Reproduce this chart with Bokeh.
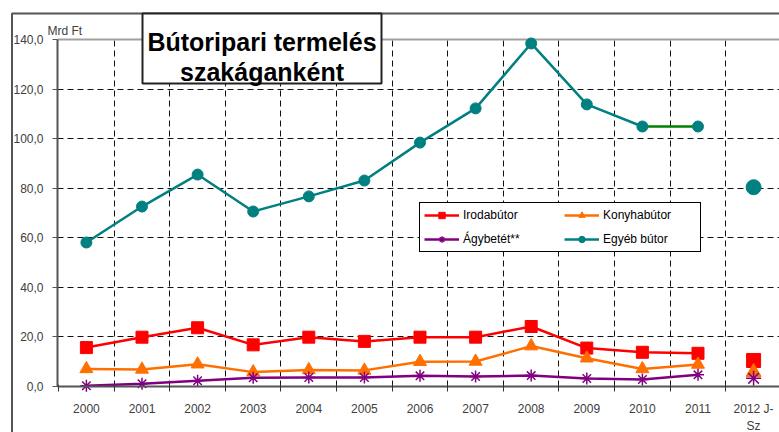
from bokeh.plotting import figure
from bokeh.models import (FixedTicker, Range1d, Label, BoxAnnotation, Grid,
                          Legend, LegendItem)
from bokeh.embed import file_html
from bokeh.resources import INLINE

# ---- data -----------------------------------------------------------
years = ["2000", "2001", "2002", "2003", "2004", "2005", "2006", "2007",
         "2008", "2009", "2010", "2011", "2012 J-\nSz"]
iroda = [15.7, 19.9, 23.7, 16.8, 19.9, 18.2, 19.9, 19.9, 24.2, 15.5, 13.8, 13.4, 10.5]
konyha = [7.1, 6.9, 9.0, 5.8, 6.7, 6.5, 10.0, 10.1, 16.3, 11.4, 7.1, 8.9, 5.8]
agy = [0.3, 1.1, 2.3, 3.5, 3.6, 3.6, 4.3, 4.0, 4.4, 3.2, 2.8, 4.7, 3.3]
egyeb = [58.1, 72.6, 85.5, 70.6, 76.7, 83.1, 98.4, 112.2, 138.4, 113.8, 104.9, 104.9, 80.4]
yticks = [0, 20, 40, 60, 80, 100, 120, 140]
ytick_labels = ["0,0", "20,0", "40,0", "60,0", "80,0", "100,0", "120,0", "140,0"]
series_names = ["Irodabútor", "Konyhabútor", "Ágybetét**", "Egyéb bútor"]
title_lines = ["Bútoripari termelés", "szakáganként"]
unit_label = "Mrd Ft"

FONT = "Liberation Sans"
xs = list(range(len(years)))
full = xs[:12]      # annual values, connected
part = xs[12:]      # 2012 partial year, separate marker

W, H = 779, 432
X0, X1 = -1.545, 12.466          # visible x window (category units)
Y0, Y1 = -18.56, 155.73          # visible y window (value units)
XL = -0.52                       # left edge of the category axis
YB, YT = 0, 140                  # value axis bounds

p = figure(width=W, height=H, x_range=Range1d(X0, X1), y_range=Range1d(Y0, Y1),
           output_backend="svg", toolbar_location=None,
           min_border=0, min_border_left=0, min_border_right=0,
           min_border_top=0, min_border_bottom=0)
p.title.visible = False
p.outline_line_color = None
p.background_fill_color = "white"
p.border_fill_color = "white"

# value axis (drawn inside the full-canvas frame)
ax = p.yaxis[0]
ax.fixed_location = XL
ax.bounds = (YB, YT)
ax.ticker = FixedTicker(ticks=yticks)
ax.major_label_overrides = {t: l for t, l in zip(yticks, ytick_labels)}
ax.axis_line_color = "#555555"
ax.axis_line_width = 2
ax.major_tick_out = 5
ax.major_tick_in = 0
ax.major_tick_line_color = "#555555"
ax.minor_tick_line_color = None
ax.major_label_text_font = FONT
ax.major_label_text_font_size = "12px"
ax.major_label_text_color = "#404040"
ax.major_label_standoff = 9

# category axis
bx = p.xaxis[0]
bx.fixed_location = 0
bx.bounds = (XL, X1)
bx.ticker = FixedTicker(ticks=xs, minor_ticks=[i - 0.5 for i in range(14)])
bx.major_label_overrides = {i: y for i, y in zip(xs, years)}
bx.axis_line_color = "#555555"
bx.axis_line_width = 2
bx.major_tick_out = 0
bx.major_tick_in = 0
bx.minor_tick_out = 5
bx.minor_tick_in = 2
bx.minor_tick_line_color = "#333333"
bx.minor_tick_line_width = 1
bx.major_label_text_font = FONT
bx.major_label_text_font_size = "12px"
bx.major_label_text_color = "#404040"
bx.major_label_text_line_height = 1.15
bx.major_label_standoff = 11

# grids
p.xgrid.ticker = FixedTicker(ticks=[i + 0.5 for i in range(12)])
p.xgrid.cross_bounds = (YB, YT)
p.ygrid.ticker = FixedTicker(ticks=yticks[1:-1])
p.ygrid.cross_bounds = (XL, X1)
for g in (p.xgrid[0], p.ygrid[0]):
    g.grid_line_color = "#111111"
    g.grid_line_dash = "6 4"
    g.grid_line_width = 1
p.add_layout(Grid(dimension=1, ticker=FixedTicker(ticks=[YT]), cross_bounds=(XL, X1),
                  grid_line_color="#a0a0a0", grid_line_width=2))

# series
COL = {"iroda": "#ff0000", "konyha": "#ff6f00", "agy": "#800080", "egyeb": "#008080"}
LW = 2.5

r1l = p.line(full, iroda[:12], line_color=COL["iroda"], line_width=LW)
r1s = p.scatter(full, iroda[:12], marker="square", size=12, color=COL["iroda"])
p.scatter(part, iroda[12:], marker="square", size=14, color=COL["iroda"])

r2l = p.line(full, konyha[:12], line_color=COL["konyha"], line_width=LW)
r2s = p.scatter(full, konyha[:12], marker="triangle", size=13, color=COL["konyha"])
p.scatter(part, konyha[12:], marker="triangle", size=15, color=COL["konyha"])

r3l = p.line(full, agy[:12], line_color=COL["agy"], line_width=LW)
r3s = p.scatter(full, agy[:12], marker="asterisk", size=12, line_color=COL["agy"], line_width=1.5)
p.scatter(part, agy[12:], marker="asterisk", size=15, line_color=COL["agy"], line_width=1.5)

r4l = p.line(full[:11], egyeb[:11], line_color=COL["egyeb"], line_width=LW)
p.line(full[10:12], egyeb[10:12], line_color="#008000", line_width=LW)
r4s = p.scatter(full, egyeb[:12], marker="circle", size=11, color=COL["egyeb"])
p.scatter(part, egyeb[12:], marker="circle", size=15, color=COL["egyeb"])

legend = Legend(items=[
    LegendItem(label=series_names[0], renderers=[r1l, r1s]),
    LegendItem(label=series_names[1], renderers=[r2l, r2s]),
    LegendItem(label=series_names[2], renderers=[r3l, r3s]),
    LegendItem(label=series_names[3], renderers=[r4l, r4s]),
], location=(419, 180), orientation="horizontal", ncols=2,
    label_text_font=FONT, label_text_font_size="12px", label_text_color="#000000",
    glyph_width=35, glyph_height=16, label_height=16, label_width=93,
    label_standoff=4, spacing=8, padding=4, margin=0,
    border_line_color="#000000", border_line_width=1, border_line_alpha=1,
    background_fill_color="white", background_fill_alpha=1)
p.add_layout(legend, "center")

# outer frame, title box, unit label (screen units, origin = bottom-left of canvas)
p.add_layout(BoxAnnotation(left=11.5, right=W + 20, top=H - 13, bottom=-20,
                           left_units="screen", right_units="screen",
                           top_units="screen", bottom_units="screen",
                           fill_alpha=0, line_color="#555555", line_alpha=1,
                           line_width=2, level="overlay"))
p.add_layout(BoxAnnotation(left=142, right=381, top=H - 13, bottom=H - 83,
                           left_units="screen", right_units="screen",
                           top_units="screen", bottom_units="screen",
                           fill_color="white", fill_alpha=1, line_color="#222222",
                           line_alpha=1, line_width=2, level="overlay"))
p.add_layout(Label(x=261.5, y=H - 41.7, x_units="screen", y_units="screen", text=title_lines[0],
                   text_font=FONT, text_font_style="bold", text_font_size="25px",
                   text_color="#000000", text_align="center", text_baseline="alphabetic",
                   level="overlay"))
p.add_layout(Label(x=261.5, y=H - 71.7, x_units="screen", y_units="screen", text=title_lines[1],
                   text_font=FONT, text_font_style="bold", text_font_size="25px",
                   text_color="#000000", text_align="center", text_baseline="alphabetic",
                   level="overlay"))
p.add_layout(Label(x=47, y=H - 30, x_units="screen", y_units="screen", text=unit_label,
                   text_font=FONT, text_font_size="12px", text_color="#404040",
                   text_align="left", text_baseline="alphabetic"))

open("out.html", "w").write(file_html(p, INLINE))
